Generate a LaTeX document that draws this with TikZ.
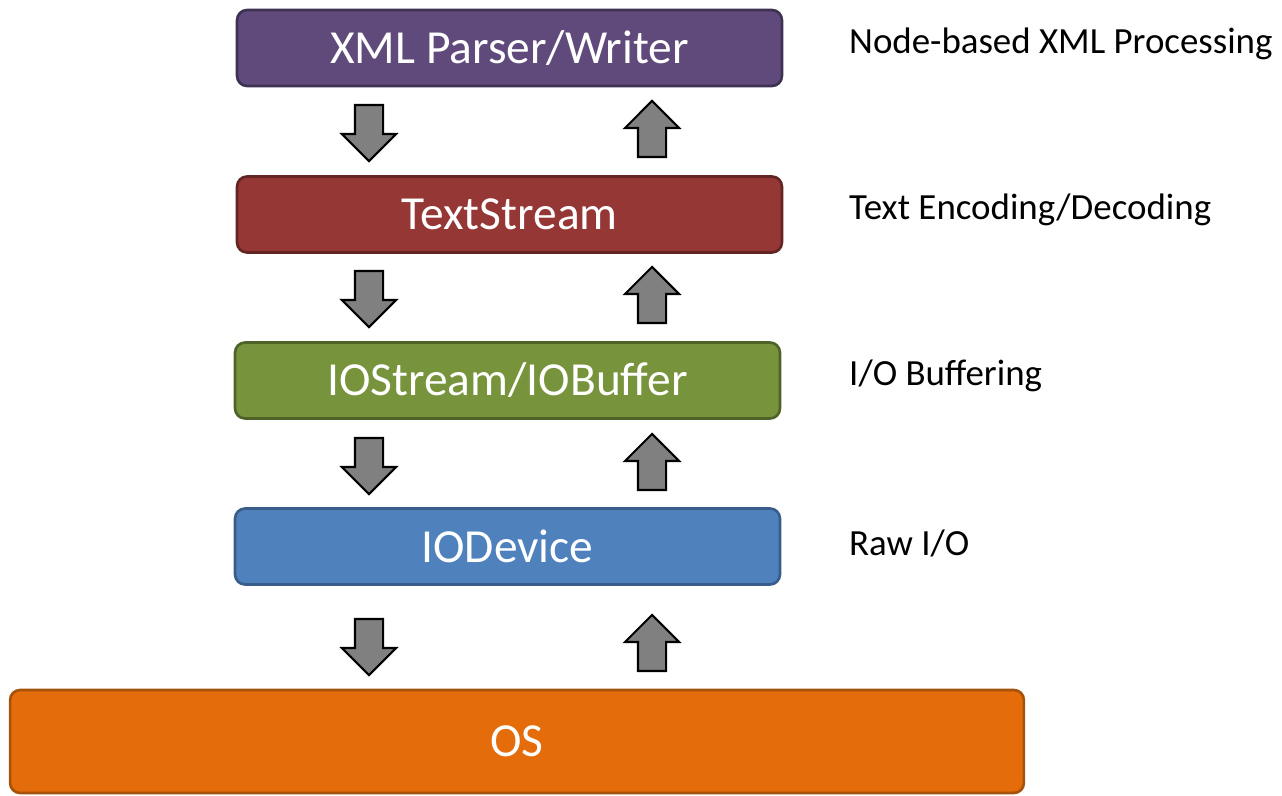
\documentclass[tikz,border=0pt]{standalone}
\usepackage{fontspec}
\setmainfont{Carlito}
\usetikzlibrary{shapes.arrows}

\definecolor{xmlfill}{HTML}{604A7B}
\definecolor{xmldraw}{HTML}{3F3151}
\definecolor{textfill}{HTML}{953735}
\definecolor{textdraw}{HTML}{632523}
\definecolor{iofill}{HTML}{77933C}
\definecolor{iodraw}{HTML}{4F6228}
\definecolor{devfill}{HTML}{4F81BD}
\definecolor{devdraw}{HTML}{385D8A}
\definecolor{osfill}{HTML}{E46C0A}
\definecolor{osdraw}{HTML}{A5520A}

\tikzset{
    layer/.style={rectangle, rounded corners=0.2cm, line width=1.5pt,
        minimum width=10.9cm, minimum height=1.52cm, text=white,
        font=\fontsize{27}{32}\selectfont},
    flow/.style={single arrow, draw=black, fill=gray, line width=1.2pt,
        inner xsep=0pt, inner ysep=0.26cm, minimum height=1.12cm,
        single arrow head extend=0.26cm, single arrow head indent=0pt},
    note/.style={anchor=west, font=\fontsize{21}{25}\selectfont}
}

\begin{document}
\begin{tikzpicture}[x=0.02cm, y=-0.02cm]
        \useasboundingbox (0,0) rectangle (1282,795);

        % layers
        \node[layer, fill=xmlfill, draw=xmldraw] (xml) at (509.5,48) {XML Parser/Writer};
        \node[layer, fill=textfill, draw=textdraw] (stream) at (509.5,214.5) {TextStream};
        \node[layer, fill=iofill, draw=iodraw] (buffer) at (507.5,380.5) {IOStream/IOBuffer};
        \node[layer, fill=devfill, draw=devdraw] (device) at (507.5,546.5) {IODevice};
        \node[layer, fill=osfill, draw=osdraw, minimum width=20.28cm, minimum height=2.06cm] (os) at (517,741.5) {OS};

        % arrows
        \node[flow, rotate=-90] (down1) at (369,126) {};
        \node[flow, rotate=90] (up1) at (652,136) {};
        \node[flow, rotate=-90] (down2) at (369,292) {};
        \node[flow, rotate=90] (up2) at (652,302) {};
        \node[flow, rotate=-90] (down3) at (369,459) {};
        \node[flow, rotate=90] (up3) at (652,469) {};
        \node[flow, rotate=-90] (down4) at (369,640) {};
        \node[flow, rotate=90] (up4) at (652,650) {};

        % labels
        \node[note] (l1) at (843,44) {Node-based XML Processing};
        \node[note] (l2) at (843,210) {Text Encoding/Decoding};
        \node[note] (l3) at (843,376) {I/O Buffering};
        \node[note] (l4) at (843,543) {Raw I/O};
    \end{tikzpicture}
\end{document}
